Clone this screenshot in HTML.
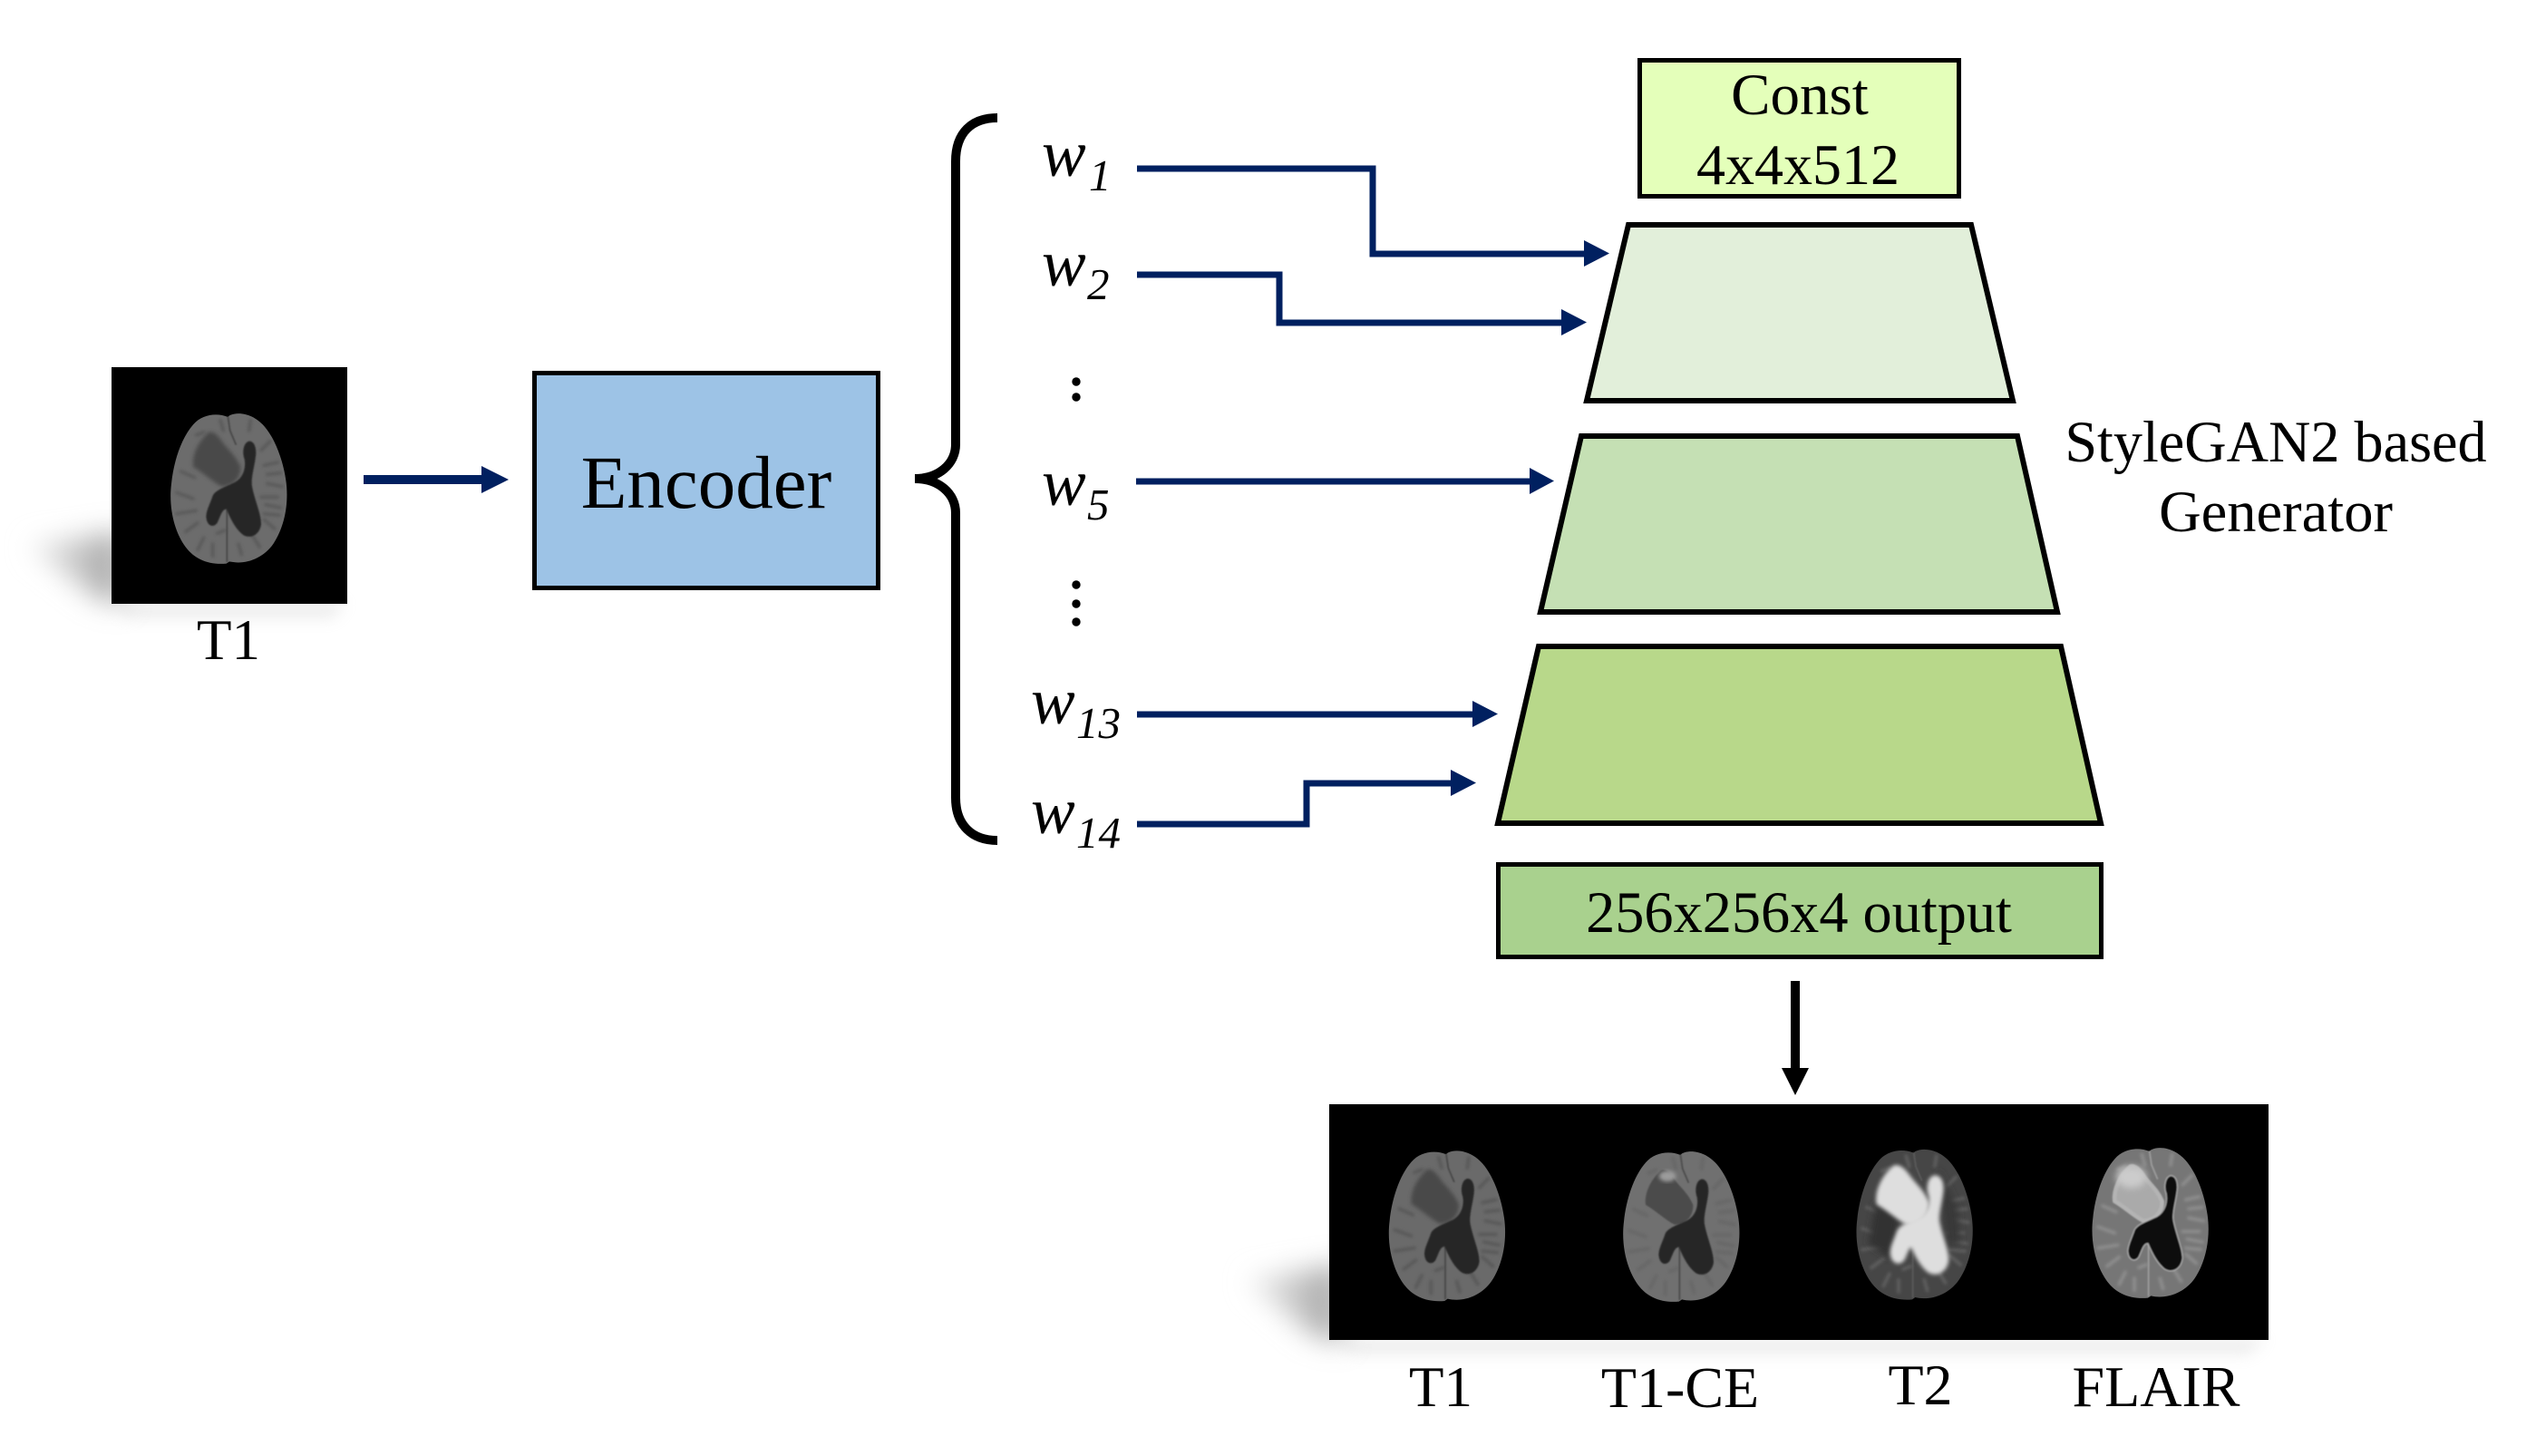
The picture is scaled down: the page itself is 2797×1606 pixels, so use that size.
<!DOCTYPE html>
<html>
<head>
<meta charset="utf-8">
<style>
html,body{margin:0;padding:0;background:#fff;width:2797px;height:1606px;overflow:hidden}
svg{display:block}
text{font-family:"Liberation Serif",serif;fill:#000}
.i{font-style:italic}
</style>
</head>
<body>
<svg width="2797" height="1606" viewBox="0 0 2797 1606" xmlns="http://www.w3.org/2000/svg">
<defs>
<filter id="b1" x="-20%" y="-20%" width="140%" height="140%"><feGaussianBlur stdDeviation="2.5"/></filter>
<filter id="b2" x="-20%" y="-20%" width="140%" height="140%"><feGaussianBlur stdDeviation="6"/></filter>
<filter id="bg" x="-20%" y="-20%" width="140%" height="140%"><feGaussianBlur stdDeviation="5"/></filter>
<filter id="b3" x="-30%" y="-30%" width="160%" height="160%"><feGaussianBlur stdDeviation="12"/></filter>
<filter id="s1" x="-60%" y="-60%" width="220%" height="220%"><feGaussianBlur stdDeviation="15"/></filter>
<filter id="s2" x="-20%" y="-150%" width="140%" height="400%"><feGaussianBlur stdDeviation="8"/></filter>
<linearGradient id="sg" x1="0" y1="0" x2="1" y2="0"><stop offset="0" stop-color="#eeeeee"/><stop offset="1" stop-color="#a2a2a2"/></linearGradient>
<path id="o" d="M275 120C240 105 190 110 160 145C120 190 95 270 88 340C78 420 98 500 135 550C165 590 210 610 270 605L280 598C330 610 390 590 425 540C465 480 477 400 467 330C457 260 430 190 395 150C360 110 310 100 280 115Z"/>
<path id="l" d="M212 170C178 200 155 245 160 285C195 305 225 335 255 350C295 348 318 322 317 285C300 245 272 225 255 200C240 178 225 166 212 170Z"/>
<path id="v" d="M345 200C325 205 322 240 330 260C335 290 325 320 300 335C270 350 235 360 225 380C215 410 203 430 203 450C205 482 228 488 240 470C250 450 255 425 270 425C285 460 300 490 325 510C350 525 380 510 385 475C385 440 365 400 355 350C350 320 365 280 368 240C368 215 360 200 345 200Z"/>
<path id="g" fill="none" stroke-linecap="round" stroke-width="11" d="M120 300L165 320M105 370L160 390M105 440L170 430M135 500L175 470M175 560L195 520M225 580L225 540M320 575L310 540M380 550L355 510M430 490L395 460M450 420L400 410M455 350L405 340M440 270L395 280M415 200L385 230M350 130L345 165M250 130L260 165M170 180L195 170M385 385L440 385M395 440L445 445M240 505L265 495M405 310L450 305"/>
<path id="m" fill="none" stroke-width="5" d="M275 118L282 165L302 212M272 425L272 600"/>
</defs>

<rect width="2797" height="1606" fill="#fff"/>

<!-- shadows -->
<polygon points="32,602 135,586 135,668 104,658" fill="url(#sg)" filter="url(#s1)"/>
<polygon points="125,664 381,664 368,682 140,682" fill="#c4c4c4" opacity=".3" filter="url(#s2)"/>
<polygon points="1376,1412 1480,1394 1480,1482 1446,1472" fill="url(#sg)" filter="url(#s1)"/>
<polygon points="1470,1476 2500,1476 2480,1494 1490,1494" fill="#c4c4c4" opacity=".3" filter="url(#s2)"/>

<!-- input image -->
<rect x="123" y="405" width="260" height="261" fill="#000"/>
<g transform="translate(159.7 420) scale(.3333)">
  <use href="#o" fill="#6c6c6c"/>
  <use href="#g" stroke="#5a5a5a" filter="url(#bg)"/>
  <use href="#m" stroke="#444" filter="url(#b1)"/>
  <use href="#l" fill="#4a4a4a" filter="url(#b2)"/>
  <use href="#v" fill="#282828" filter="url(#b1)"/>
</g>
<text x="252" y="727" font-size="63" text-anchor="middle">T1</text>

<!-- arrow to encoder -->
<rect x="401" y="524" width="131" height="10" fill="#002060"/>
<polygon points="531,514 561,529 531,544" fill="#002060"/>

<!-- encoder -->
<rect x="589.5" y="411.5" width="379" height="237" fill="#9dc3e6" stroke="#000" stroke-width="5"/>
<text x="779" y="560" font-size="83" text-anchor="middle">Encoder</text>

<!-- brace -->
<path d="M1100 130C1072 130 1054 146 1054 178L1054 490C1054 512 1035 528 1009 528C1035 528 1054 544 1054 566L1054 880C1054 910 1072 927 1100 927" fill="none" stroke="#000" stroke-width="10"/>

<!-- w labels -->
<text class="i" x="1149" y="194" font-size="73">w</text><text class="i" x="1201" y="210" font-size="49">1</text>
<text class="i" x="1149" y="315" font-size="73">w</text><text class="i" x="1199" y="330" font-size="49">2</text>
<text class="i" x="1149" y="557" font-size="73">w</text><text class="i" x="1199" y="573" font-size="49">5</text>
<text class="i" x="1137" y="798" font-size="73">w</text><text class="i" x="1187" y="814" font-size="49">13</text>
<text class="i" x="1137" y="919" font-size="73">w</text><text class="i" x="1187" y="935" font-size="49">14</text>

<!-- dots -->
<g fill="#000">
<circle cx="1187" cy="421" r="4.7"/><circle cx="1187" cy="438" r="4.7"/>
<circle cx="1187" cy="645" r="4.7"/><circle cx="1187" cy="666" r="4.7"/><circle cx="1187" cy="686" r="4.7"/>
</g>

<!-- style connectors -->
<g fill="none" stroke="#002060" stroke-width="7" stroke-linejoin="miter">
<path d="M1254 186H1514V280H1750"/>
<path d="M1254 303H1411V356H1725"/>
<path d="M1253 531H1692"/>
<path d="M1254 788H1627"/>
<path d="M1254 909H1441V864H1603"/>
</g>
<g fill="#002060">
<polygon points="1747,265 1775,279.5 1747,294"/>
<polygon points="1722,341 1750,355.5 1722,370"/>
<polygon points="1687,516 1714,530.5 1687,545"/>
<polygon points="1624,773 1652,787.5 1624,802"/>
<polygon points="1600,849 1628,863.5 1600,878"/>
</g>

<!-- const -->
<rect x="1808.5" y="66.5" width="352" height="150" fill="#e4ffba" stroke="#000" stroke-width="5"/>
<text x="1985" y="126" font-size="65" text-anchor="middle">Const</text>
<text x="1983" y="203" font-size="64" text-anchor="middle">4x4x512</text>

<!-- generator blocks -->
<g stroke="#000" stroke-width="6" stroke-linejoin="miter">
<polygon points="1796,248 2174,248 2220,442 1750,442" fill="#e2efda"/>
<polygon points="1744,481 2225,481 2269,675 1699,675" fill="#c5e0b4"/>
<polygon points="1697,713 2273,713 2317,908 1652,908" fill="#b8d88a"/>
</g>

<text x="2510" y="509" font-size="64.2" text-anchor="middle">StyleGAN2 based</text>
<text x="2510" y="586" font-size="64.5" text-anchor="middle">Generator</text>

<!-- output -->
<rect x="1652.5" y="953.5" width="665" height="102" fill="#a9d18e" stroke="#000" stroke-width="5"/>
<text x="1984" y="1028" font-size="64.3" text-anchor="middle">256x256x4 output</text>

<!-- down arrow -->
<rect x="1975" y="1082" width="10" height="97" fill="#000"/>
<polygon points="1965,1178 1995,1178 1980,1208" fill="#000"/>

<!-- output images -->
<rect x="1466" y="1218" width="1036" height="260" fill="#000"/>

<g transform="translate(1503.3 1233.3) scale(.3333)">
  <use href="#o" fill="#6a6a6a"/>
  <use href="#g" stroke="#585858" filter="url(#bg)"/>
  <use href="#m" stroke="#444" filter="url(#b1)"/>
  <use href="#l" fill="#484848" filter="url(#b2)"/>
  <use href="#v" fill="#282828" filter="url(#b1)"/>
</g>

<g transform="translate(1761.7 1234) scale(.3333)">
  <use href="#o" fill="#707070"/>
  <use href="#g" stroke="#646464" filter="url(#bg)" opacity=".7"/>
  <use href="#m" stroke="#484848" filter="url(#b1)"/>
  <use href="#l" fill="#4c4c4c" filter="url(#b1)"/>
  <ellipse cx="232" cy="190" rx="28" ry="18" fill="#9c9c9c" filter="url(#b2)"/>
  <use href="#v" fill="#272727" filter="url(#b1)"/>
</g>

<g transform="translate(2019 1231.7) scale(.3333)">
  <use href="#o" fill="#464646"/>
  <use href="#g" stroke="#5e5e5e" filter="url(#bg)"/>
  <path d="M150 280L230 310L215 400L195 470L125 420Z" fill="#303030" filter="url(#b3)"/>
  <path d="M355 170L420 300L430 420L385 430L370 300Z" fill="#383838" filter="url(#b3)"/>
  <use href="#m" stroke="#5c5c5c" filter="url(#b1)"/>
  <use href="#l" fill="#dedede" stroke="#dedede" stroke-width="18" stroke-linejoin="round" filter="url(#b2)"/>
  <use href="#v" fill="#dedede" stroke="#dedede" stroke-width="12" stroke-linejoin="round" filter="url(#b2)"/>
</g>

<g transform="translate(2279 1230) scale(.3333)">
  <use href="#o" fill="#767676"/>
  <use href="#g" stroke="#8e8e8e" filter="url(#bg)"/>
  <use href="#m" stroke="#a0a0a0" filter="url(#b1)"/>
  <use href="#l" fill="#aaaaaa" stroke="#b4b4b4" stroke-width="14" stroke-linejoin="round" filter="url(#b1)"/>
  <ellipse cx="215" cy="205" rx="50" ry="36" fill="#cccccc" filter="url(#b3)"/>
  <use href="#v" fill="#0c0c0c" stroke="#bdbdbd" stroke-width="3" filter="url(#b1)"/>
</g>

<text x="1589" y="1551" font-size="63" text-anchor="middle">T1</text>
<text x="1853" y="1552" font-size="64" text-anchor="middle">T1-CE</text>
<text x="2118" y="1549" font-size="64" text-anchor="middle">T2</text>
<text x="2378" y="1551" font-size="64" text-anchor="middle">FLAIR</text>
</svg>
</body>
</html>
